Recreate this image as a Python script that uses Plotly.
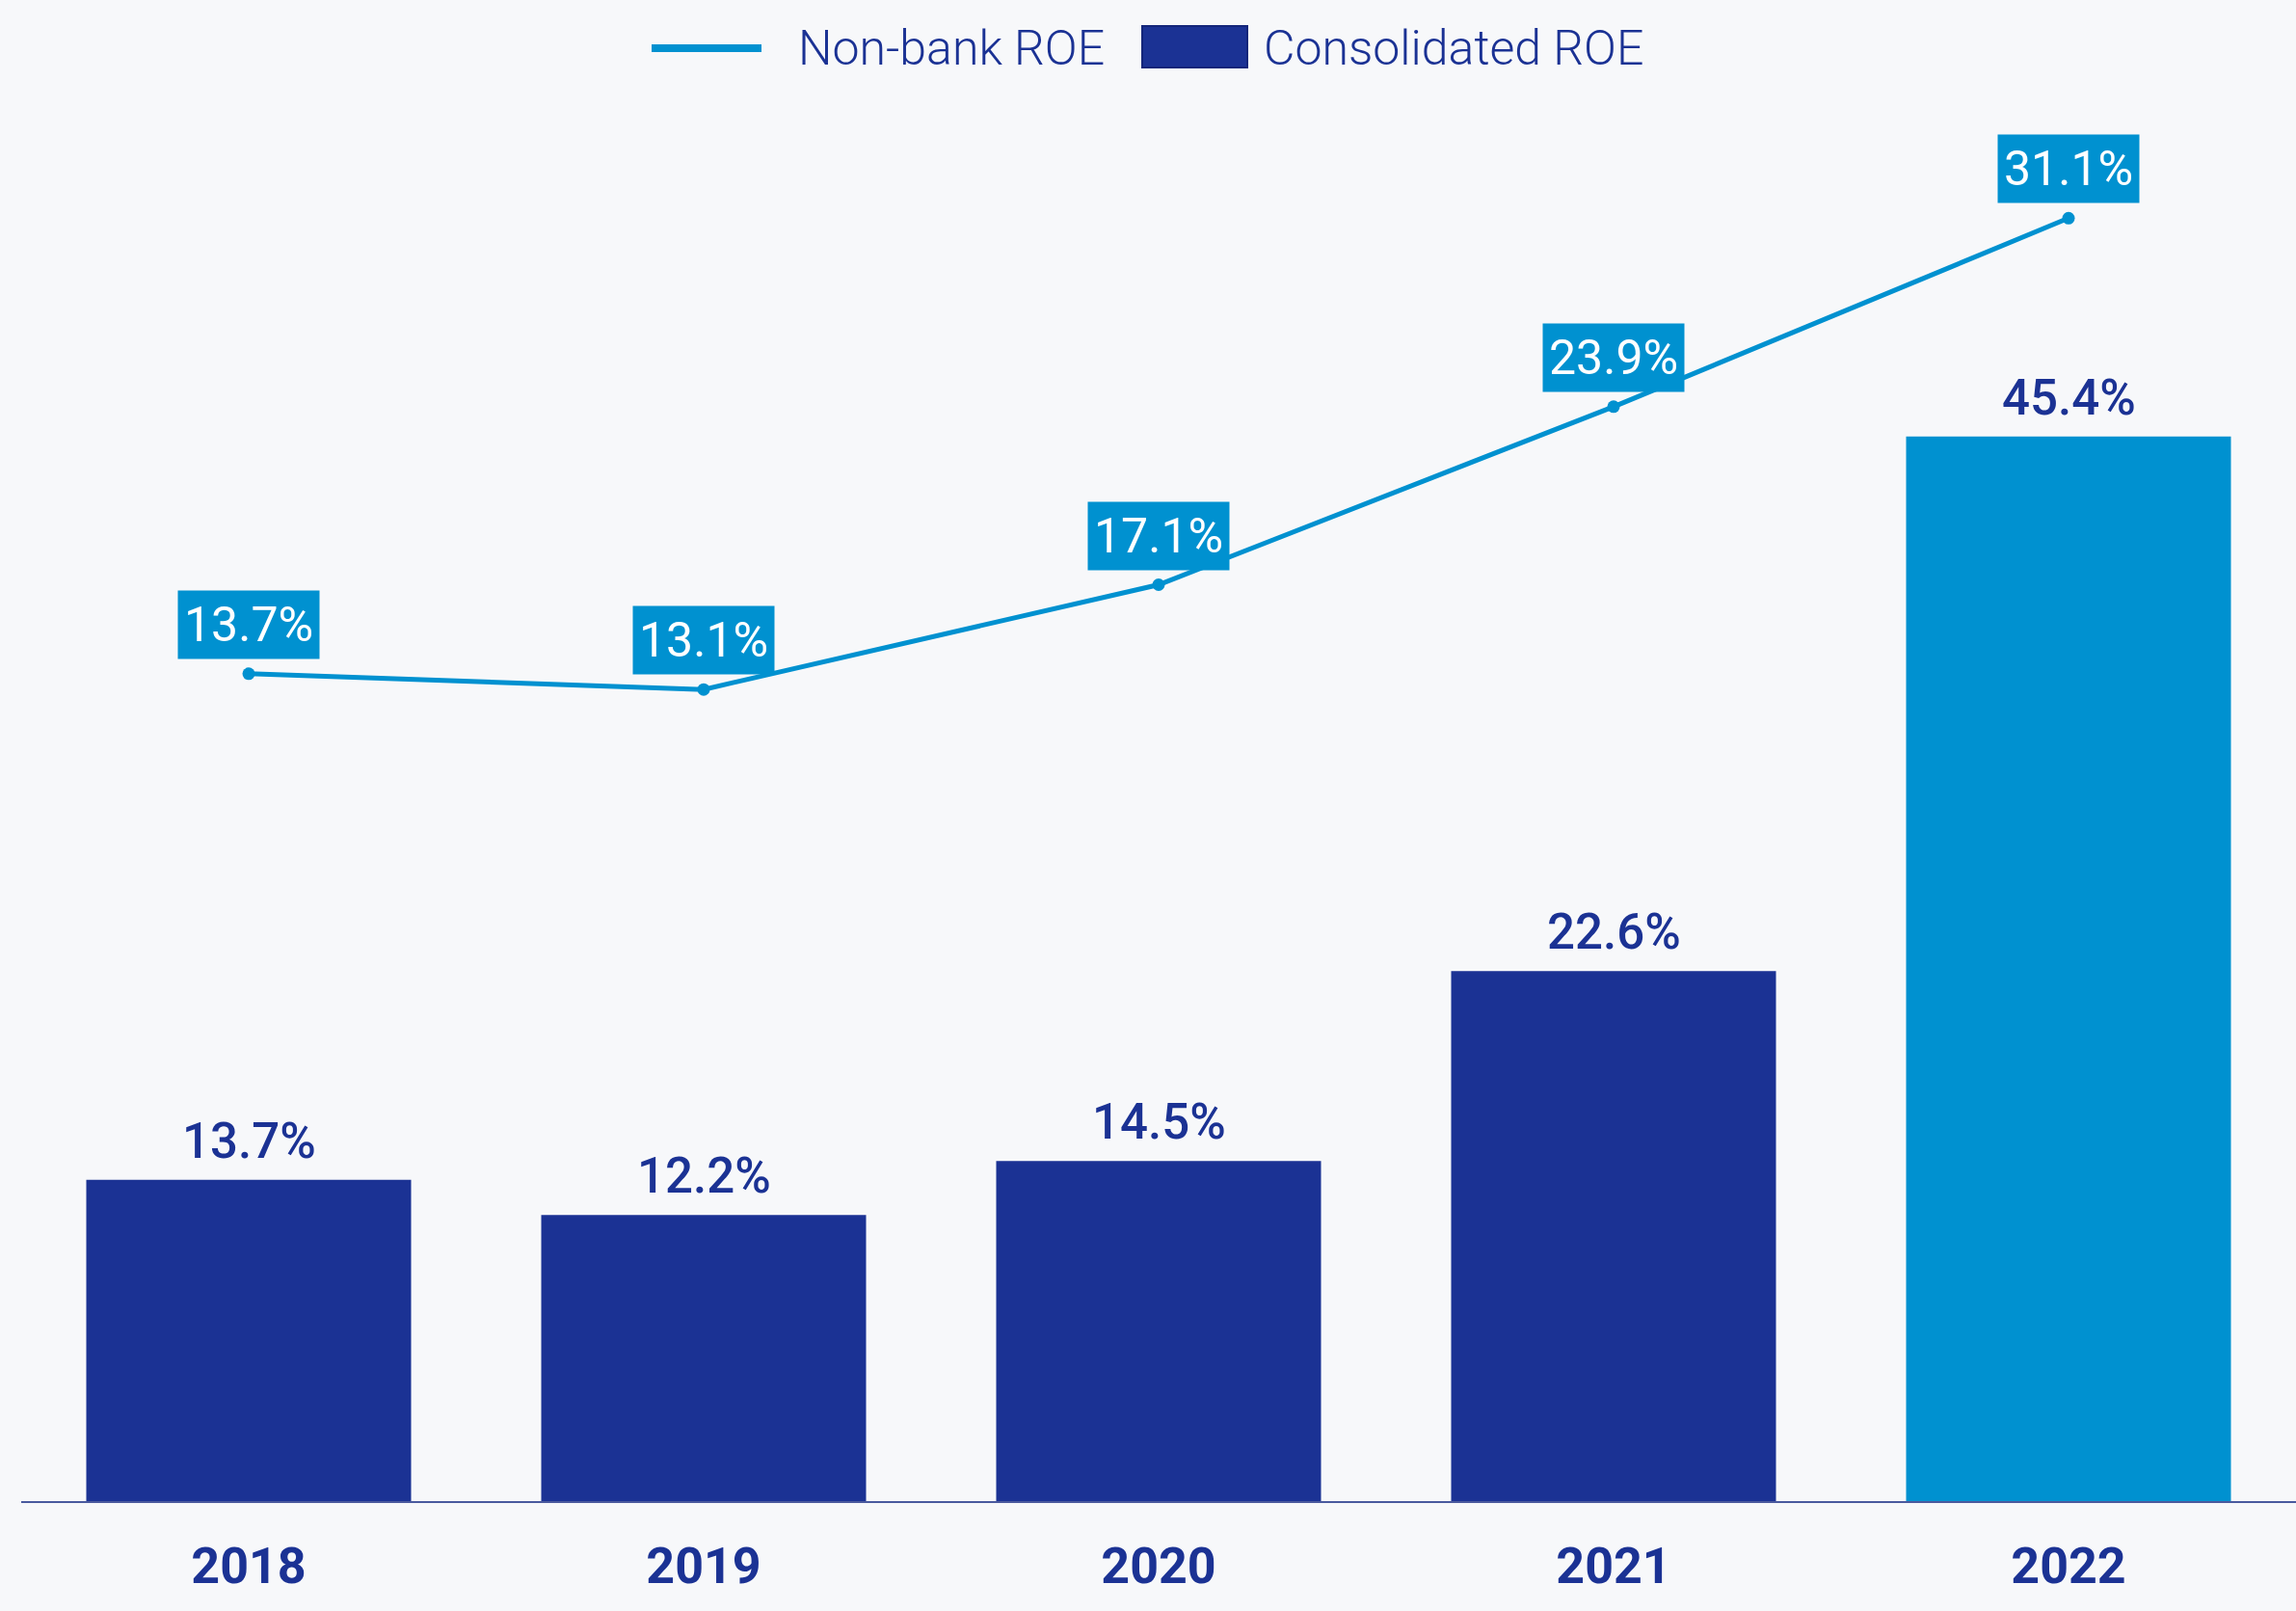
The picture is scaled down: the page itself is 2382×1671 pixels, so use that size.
import plotly.graph_objects as go

# chart data
years = ["2018", "2019", "2020", "2021", "2022"]
consolidated_roe = [13.7, 12.2, 14.5, 22.6, 45.4]
nonbank_roe = [13.7, 13.1, 17.1, 23.9, 31.1]

dark_blue = "#1B3294"
light_blue = "#0091D0"
bg = "#F7F8FA"

bar_colors = [dark_blue] * 4 + [light_blue]

fig = go.Figure()

fig.add_trace(go.Bar(
    x=years,
    y=consolidated_roe,
    name="Consolidated ROE",
    marker=dict(color=bar_colors, line=dict(width=0)),
    showlegend=False
))

fig.add_trace(go.Scatter(
    x=years,
    y=nonbank_roe,
    yaxis="y2",
    mode="lines+markers",
    name="Non-bank ROE",
    line=dict(color=light_blue, width=5),
    marker=dict(color=light_blue, size=13),
    showlegend=False
))

# value labels on top of the bars (x = category index)
for i, v in enumerate(consolidated_roe):
    fig.add_annotation(
        x=i, y=v, xref="x", yref="y",
        text=f"{v:.1f}%",
        showarrow=False,
        yanchor="bottom",
        yshift=10,
        borderpad=0,
        font=dict(family="Roboto", size=51, color=dark_blue, weight=500)
    )

# boxed labels above the line points
for i, v in enumerate(nonbank_roe):
    fig.add_annotation(
        x=i, y=v, xref="x", yref="y2",
        text=f"{v:.1f}%",
        showarrow=False,
        yanchor="bottom",
        yshift=15,
        bgcolor=light_blue,
        borderpad=6,
        font=dict(family="Roboto", size=50, color="white")
    )

# plot area in pixels, used to place the legend
W, H = 2382, 1671
ml, mr, mt, mb = 22, 0, 106, 114
pw, ph = W - ml - mr, H - mt - mb


def px(x):
    return (x - ml) / pw


def py(y):
    return (H - mb - y) / ph


# custom legend
fig.add_shape(type="line", xref="paper", yref="paper",
              x0=px(676), x1=px(790), y0=py(50), y1=py(50),
              line=dict(color=light_blue, width=8))
fig.add_annotation(xref="paper", yref="paper", x=px(826), y=py(50),
                   xanchor="left", yanchor="middle", showarrow=False,
                   text="Non-bank ROE",
                   font=dict(family="Roboto", size=50, color=dark_blue, weight=300))
fig.add_shape(type="rect", xref="paper", yref="paper",
              x0=px(1185), x1=px(1294), y0=py(27), y1=py(70),
              fillcolor=dark_blue, line=dict(color="#14267A", width=2))
fig.add_annotation(xref="paper", yref="paper", x=px(1309), y=py(50),
                   xanchor="left", yanchor="middle", showarrow=False,
                   text="Consolidated ROE",
                   font=dict(family="Roboto", size=50, color=dark_blue, weight=300))

fig.update_layout(
    width=W,
    height=H,
    margin=dict(l=ml, r=mr, t=mt, b=mb),
    paper_bgcolor=bg,
    plot_bgcolor=bg,
    bargap=0.286,
    showlegend=False,
    font=dict(family="Roboto", color=dark_blue),
    xaxis=dict(
        type="category",
        categoryorder="array",
        categoryarray=years,
        range=[-0.5, len(years) - 0.5],
        showgrid=False,
        showline=True,
        linecolor="#4A5A9E",
        linewidth=2,
        ticks="",
        ticklabelstandoff=21,
        tickfont=dict(family="Roboto", size=52, color=dark_blue, weight=700)
    ),
    yaxis=dict(
        range=[0, 59.66],
        visible=False,
        showgrid=False,
        zeroline=False
    ),
    yaxis2=dict(
        range=[-17.9, 35.53],
        overlaying="y",
        visible=False,
        showgrid=False,
        zeroline=False
    )
)

fig.write_html(
    "out.html",
    config={"displayModeBar": False},
    post_script="document.body.style.margin='0';document.body.style.background='#F7F8FA';"
)
